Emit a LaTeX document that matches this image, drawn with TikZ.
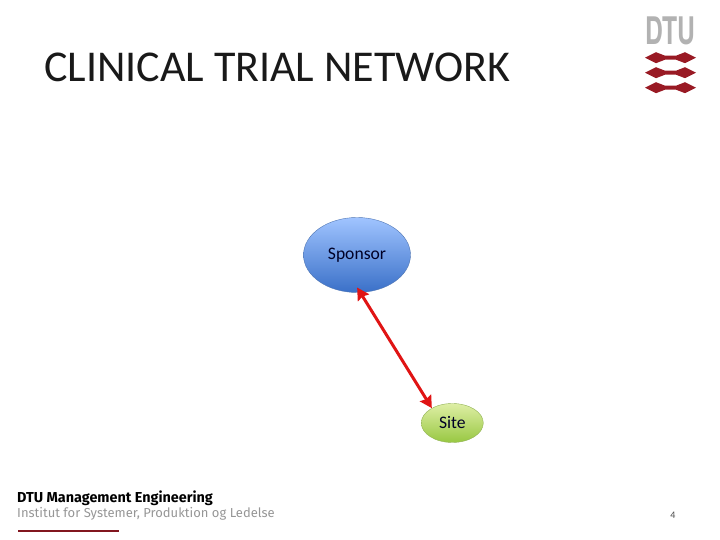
\documentclass[tikz,border=0pt]{standalone}
\usepackage{fontspec}
\setmainfont{Carlito}
\newfontfamily\logofont{TeX Gyre Heros}
\newfontfamily\footfont{Fira Sans}
\usetikzlibrary{shapes.geometric,arrows.meta}
\definecolor{logored}{RGB}{153,26,36}
\definecolor{logogray}{RGB}{178,178,178}
\definecolor{linkred}{RGB}{224,20,20}
\definecolor{footgray}{RGB}{150,150,150}
\definecolor{sponsortop}{RGB}{160,196,255}
\definecolor{sponsorbot}{RGB}{58,112,200}
\definecolor{sitetop}{RGB}{222,238,165}
\definecolor{sitebot}{RGB}{152,200,66}
\begin{document}
\begin{tikzpicture}[x=1pt,y=1pt,line cap=round,line join=round,
	actor/.style={ellipse,inner sep=0pt,text=black!85!blue,font=\fontsize{17.6}{18}\selectfont},
	logobar/.style={fill=logored,draw=none}]
	\useasboundingbox (0,0) rectangle (720,540);
	\node[anchor=west,inner sep=0pt,font=\fontsize{44}{50}\selectfont,text=black!90] (title) at (44,473) {CLINICAL TRIAL NETWORK};
	% the two parties
	\node[actor,minimum width=107pt,minimum height=75pt,draw=sponsorbot!70!gray,top color=sponsortop,bottom color=sponsorbot] (sponsor) at (357,285) {\raisebox{-2.5pt}{Sponsor}};
	\node[actor,minimum width=62pt,minimum height=39pt,draw=sitebot!70!gray,top color=sitetop,bottom color=sitebot] (site) at (452.3,117) {\raisebox{-1pt}{Site}};
	\draw [linkred,line width=3pt,line cap=butt,{Stealth[length=12pt,width=13pt,inset=1.5pt]}-{Stealth[length=12pt,width=13pt,inset=1.5pt]},shorten <=-6pt] (sponsor.-85) -- (site.144);
	% logo
	\node[font=\logofont\bfseries\fontsize{38}{38}\selectfont,text=logogray,xscale=0.65,inner sep=0pt] (logotext) at (670.5,509.5) {DTU};
	\fill[logobar] (645,482.3) -- (656,487.8) -- (665,484.3) -- (676,484.3) -- (685,487.8) -- (696,482.3) -- (685,476.8) -- (676,480.3) -- (665,480.3) -- (656,476.8) -- cycle;
	\fill[logobar] (645,467.3) -- (656,472.8) -- (665,469.3) -- (676,469.3) -- (685,472.8) -- (696,467.3) -- (685,461.8) -- (676,465.3) -- (665,465.3) -- (656,461.8) -- cycle;
	\fill[logobar] (645,452.3) -- (656,457.8) -- (665,454.3) -- (676,454.3) -- (685,457.8) -- (696,452.3) -- (685,446.8) -- (676,450.3) -- (665,450.3) -- (656,446.8) -- cycle;
	% footer
	\node[anchor=west,inner sep=0pt,font=\footfont\bfseries\fontsize{14.4}{16}\selectfont] (dept) at (17,42) {DTU Management Engineering};
	\node[anchor=west,inner sep=0pt,font=\footfont\fontsize{13}{16}\selectfont,text=footgray] (inst) at (17,26.5) {Institut for Systemer, Produktion og Ledelse};
	\fill[logored!85!black] (18,7.5) rectangle (119,10);
	\node[font=\fontsize{10}{12}\selectfont,text=black!70] (pageno) at (673,25) {4};
\end{tikzpicture}
\end{document}
